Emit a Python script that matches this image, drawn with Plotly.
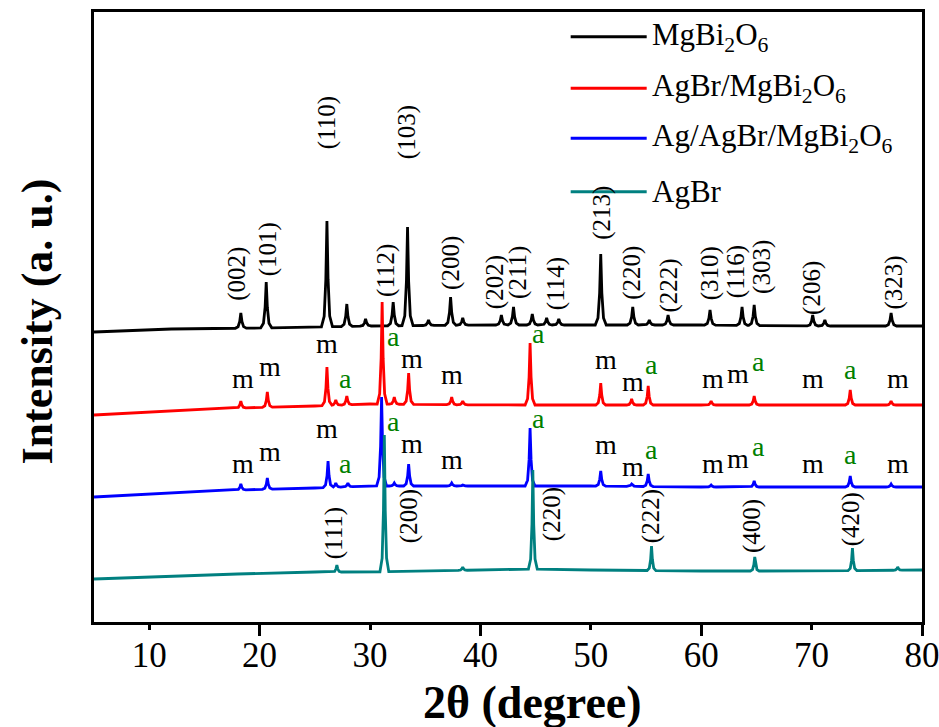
import numpy as np
import plotly.graph_objects as go

# ---------------- data (2theta in degree, intensity in a.u., stacked) ----------------
x_ticks = [10, 20, 30, 40, 50, 60, 70, 80]
x_major = [20, 40, 60, 80]

# MgBi2O6 (black)
mg_base_2t = [5, 12, 20, 30, 40, 50, 60, 70, 80]
mg_base_I = [290, 293, 294, 296, 297, 297, 297, 296, 296]
mg_peak_2t = [18.3, 20.6, 26.1, 27.9, 29.6, 32.1, 33.4, 35.3, 37.3, 38.4, 41.9, 43.0,
              44.7, 46.0, 47.1, 50.9, 53.8, 55.3, 57.0, 60.8, 63.7, 64.8, 70.1, 71.2, 77.2]
mg_peak_I = [309, 340, 401, 318, 303, 320, 395, 302, 325, 304, 307, 315,
             308, 304, 303, 368, 315, 302, 307, 312, 315, 317, 307, 302, 309]

# AgBr/MgBi2O6 (red)
am_base_2t = [5, 12, 18, 25, 30, 40, 50, 60, 70, 80]
am_base_I = [207, 211, 214, 216, 218, 217, 217, 217, 217, 217]
am_peak_2t = [18.3, 20.7, 26.1, 26.9, 27.9, 31.1, 32.2, 33.5, 37.4, 38.4, 44.5,
              50.9, 53.7, 55.2, 60.9, 64.8, 73.5, 77.2]
am_peak_I = [221, 230, 255, 222, 226, 320, 225, 249, 225, 221, 279,
             239, 223, 236, 221, 226, 232, 221]

# Ag/AgBr/MgBi2O6 (blue)
aam_base_2t = [5, 12, 18, 25, 30, 40, 50, 60, 70, 80]
aam_base_I = [125, 129, 132, 134, 136, 136, 136, 135, 135, 135]
aam_peak_2t = [18.3, 20.7, 26.2, 26.9, 28.0, 31.05, 32.2, 33.5, 37.4, 38.4, 44.5,
               50.9, 53.7, 55.2, 60.9, 64.8, 73.5, 77.2]
aam_peak_I = [138, 144, 161, 139, 139, 225, 139, 158, 139, 137, 194,
              151, 138, 148, 137, 141, 146, 138]

# AgBr (teal)
ab_base_2t = [5, 12, 18, 25, 30, 40, 45, 50, 60, 70, 80]
ab_base_I = [43, 46, 48, 50, 50, 52, 53, 52, 51, 51, 52]
ab_peak_2t = [27.0, 31.3, 38.4, 44.75, 55.5, 64.85, 73.7, 77.8]
ab_peak_I = [57, 187, 55, 152, 76, 65, 74, 55]

series_names = ["MgBi<sub>2</sub>O<sub>6</sub>", "AgBr/MgBi<sub>2</sub>O<sub>6</sub>",
                "Ag/AgBr/MgBi<sub>2</sub>O<sub>6</sub>", "AgBr"]

# Miller indices of MgBi2O6 (label 2theta, label height)
mg_hkl = ["(002)", "(101)", "(110)", "(112)", "(103)", "(200)", "(202)", "(211)", "(114)",
          "(213)", "(220)", "(222)", "(310)", "(116)", "(303)", "(206)", "(323)"]
mg_hkl_2t = [17.94, 20.78, 26.12, 31.44, 33.37, 37.33, 41.34, 43.40, 46.86,
             51.0, 53.72, 57.04, 60.82, 63.17, 65.50, 70.03, 77.42]
mg_hkl_I = [348, 373, 499, 352, 490, 359, 340, 350, 338,
            409, 349, 336, 349, 350, 355, 334, 339]

# Miller indices of AgBr
ab_hkl = ["(111)", "(200)", "(220)", "(222)", "(400)", "(420)"]
ab_hkl_2t = [26.76, 33.55, 46.5, 55.47, 64.6, 73.6]
ab_hkl_I = [89, 106, 108, 106, 96, 103]

# phase marks (m = MgBi2O6, a = AgBr)
mark_text = ["m", "m", "m", "a", "a", "m", "m", "a", "m", "m", "a", "m", "m", "a", "m", "a", "m"]
mark_2t = [18.51, 20.96, 26.10, 27.75, 32.10, 33.82, 37.45, 45.24, 51.39, 53.84, 55.47,
           61.09, 63.36, 65.17, 70.15, 73.50, 77.84]
mark_I_red = [244, 256, 279, 244, 286, 264, 248, 289, 263, 241, 258, 244, 249, 261, 244, 253, 244]
mark_I_blue = [159, 171, 194, 159, 201, 179, 163, 204, 178, 156, 173, 159, 164, 176, 159, 168, 159]

# ---------------- build profiles ----------------
shape_dx = [-0.5, -0.25, -0.1, 0.0, 0.1, 0.25, 0.5]
shape_f = [0.0, 0.1, 0.45, 1.0, 0.45, 0.1, 0.0]


def profile(b2t, bI, p2t, pI, wscale=1.0):
    dx = np.array(shape_dx) * wscale
    xs = set(b2t)
    for p in p2t:
        for d in dx:
            xs.add(round(p + d, 4))
    xs = np.array(sorted(x for x in xs if 5 <= x <= 80))
    ys = np.interp(xs, b2t, bI).astype(float)
    for p, top in zip(p2t, pI):
        h = top - np.interp(p, b2t, bI)
        ys += h * np.interp(xs - p, dx, shape_f, left=0, right=0)
    return xs, ys


FONT = "Liberation Serif"
colors = ["#000000", "#ff0000", "#0000ff", "#008080"]
data_sets = [
    (mg_base_2t, mg_base_I, mg_peak_2t, mg_peak_I, 1.0),
    (am_base_2t, am_base_I, am_peak_2t, am_peak_I, 0.9),
    (aam_base_2t, aam_base_I, aam_peak_2t, aam_peak_I, 0.9),
    (ab_base_2t, ab_base_I, ab_peak_2t, ab_peak_I, 0.8),
]

fig = go.Figure()
for (b2t, bI, p2t, pI, ws), col, name in zip(data_sets, colors, series_names):
    xs, ys = profile(b2t, bI, p2t, pI, ws)
    fig.add_trace(go.Scatter(x=xs, y=ys, mode="lines", name=name,
                             line=dict(color=col, width=2.8), showlegend=False))

# dummy traces for the tick-only axes (short ticks every 10, long ticks every 20)
fig.add_trace(go.Scatter(x=[None], y=[None], xaxis="x2", showlegend=False, hoverinfo="skip"))
fig.add_trace(go.Scatter(x=[None], y=[None], xaxis="x3", showlegend=False, hoverinfo="skip"))

ann = []
for t, x, y in zip(mg_hkl, mg_hkl_2t, mg_hkl_I):
    ann.append(dict(x=x, y=y, xref="x", yref="y", text=t, showarrow=False, textangle=-90,
                    font=dict(family=FONT, size=25, color="black")))
for t, x, y in zip(ab_hkl, ab_hkl_2t, ab_hkl_I):
    ann.append(dict(x=x, y=y, xref="x", yref="y", text=t, showarrow=False, textangle=-90,
                    font=dict(family=FONT, size=25, color="black")))
for t, x, yr, yb in zip(mark_text, mark_2t, mark_I_red, mark_I_blue):
    c = "#008000" if t == "a" else "black"
    for y in (yr, yb):
        ann.append(dict(x=x, y=y, xref="x", yref="y", text=t, showarrow=False,
                        font=dict(family=FONT, size=28, color=c)))

# legend drawn by hand (long line samples, no box)
leg_y = [0.9595, 0.8749, 0.7930, 0.7054]
shapes = []
for name, col, ly in zip(series_names, colors, leg_y):
    shapes.append(dict(type="line", xref="paper", yref="paper", x0=0.5757, x1=0.6675,
                       y0=ly, y1=ly, line=dict(color=col, width=3)))
    ann.append(dict(x=0.672, y=ly, xref="paper", yref="paper", text=name, showarrow=False,
                    xanchor="left", yanchor="middle",
                    font=dict(family=FONT, size=31, color="black")))

# axis titles
ann.append(dict(x=0.530, y=-0.132, xref="paper", yref="paper", text="2θ (degree)",
                showarrow=False, xanchor="center", yanchor="middle",
                font=dict(family=FONT, size=46, color="black", weight="bold")))
ann.append(dict(x=-0.068, y=0.492, xref="paper", yref="paper", text="Intensity (a. u.)",
                showarrow=False, textangle=-90, xanchor="center", yanchor="middle",
                font=dict(family=FONT, size=44, color="black", weight="bold")))

tick_axis = dict(range=[5, 80], overlaying="x", anchor="y", side="bottom",
                 ticks="outside", tickwidth=2.5, tickcolor="black", automargin=False,
                 showticklabels=False, showline=False, showgrid=False, zeroline=False)

fig.update_layout(
    width=939, height=727,
    margin=dict(l=94, r=17, t=12, b=105, autoexpand=False),
    paper_bgcolor="white", plot_bgcolor="white",
    showlegend=False,
    annotations=ann, shapes=shapes,
    xaxis=dict(range=[5, 80], tickvals=x_ticks, ticktext=[str(v) for v in x_ticks],
               ticks="", showline=True, linewidth=3, linecolor="black", mirror=True,
               showgrid=False, zeroline=False, ticklabelstandoff=0,
               ticklabeloverflow="allow", automargin=False,
               tickfont=dict(family=FONT, size=35, color="black")),
    xaxis2=dict(tick_axis, tickvals=x_ticks, ticklen=7),
    xaxis3=dict(tick_axis, tickvals=x_major, ticklen=13),
    yaxis=dict(range=[0, 610], showline=True, linewidth=3, linecolor="black", mirror=True,
               showticklabels=False, ticks="", showgrid=False, zeroline=False,
               automargin=False),
)

fig.write_html("out.html")
